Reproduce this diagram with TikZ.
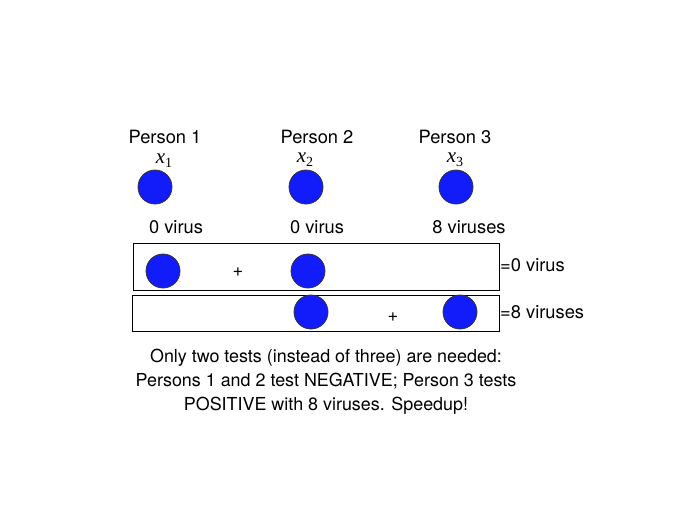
\documentclass[tikz,border=0pt]{standalone}
\usepackage{fontspec}
\setmainfont{TeX Gyre Heros}
\newfontfamily\serifit{Liberation Serif}
\newcommand{\varx}[1]{{\serifit\fontsize{21}{24}\selectfont\itshape x\raisebox{-4pt}{\fontsize{14}{16}\selectfont\upshape #1}}}
\definecolor{dotblue}{RGB}{18,28,250}
\begin{document}
\begin{tikzpicture}[x=1pt,y=-1pt,
  dot/.style={circle,draw=black!80,line width=0.8pt,fill=dotblue,minimum size=34pt,inner sep=0pt},
  lbl/.style={font=\fontsize{18.3}{22}\selectfont,inner sep=0pt},
  varlbl/.style={inner sep=0pt,text height=9pt,text depth=5pt},
  pool/.style={draw=black,line width=0.8pt}]
\useasboundingbox (0,0) rectangle (673,531);
% people
\node[lbl] (p1) at (165,137) {Person 1};
\node[lbl] (p2) at (317,137) {Person 2};
\node[lbl] (p3) at (455,137) {Person 3};
\node[varlbl] (x1) at (164,161) {\varx{1}};
\node[varlbl] (x2) at (305,160) {\varx{2}};
\node[varlbl] (x3) at (455,160) {\varx{3}};
\node[dot] (d1) at (155,187) {};
\node[dot] (d2) at (306,187) {};
\node[dot] (d3) at (456,187) {};
\node[lbl] (v1) at (176,227) {0 virus};
\node[lbl] (v2) at (317,227) {0 virus};
\node[lbl] (v3) at (469,227) {8 viruses};
% pool 1
\draw[pool] (133,243) rectangle (499,290);
\node[dot] (a1) at (163,271) {};
\node[dot] (a2) at (308,271) {};
\node[lbl] (plus1) at (238,272) {+};
\node[lbl,anchor=west] (r1) at (500,265) {=0 virus};
% pool 2
\draw[pool] (132,295) rectangle (499,331);
\node[dot] (b2) at (311,312) {};
\node[dot] (b3) at (460,312) {};
\node[lbl] (plus2) at (393,317) {+};
\node[lbl,anchor=west] (r2) at (500,312) {=8 viruses};
% caption
\node[lbl,align=center,font=\fontsize{17.9}{24}\selectfont] (cap) at (326,382)
  {Only two tests (instead of three) are needed:\\
   Persons 1 and 2 test NEGATIVE; Person 3 tests\\
   POSITIVE with 8 viruses. Speedup!};
\end{tikzpicture}
\end{document}
